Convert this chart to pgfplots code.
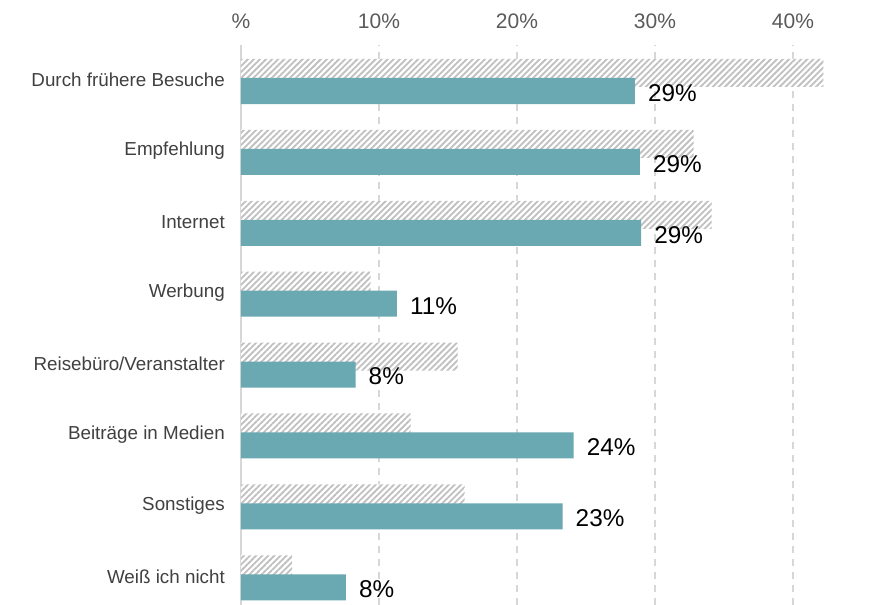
\documentclass[border=0pt]{standalone}
\usepackage{fontspec}
\setmainfont{Liberation Sans}
\usepackage{pgfplots}
\pgfplotsset{compat=1.18}
\usetikzlibrary{patterns.meta}
\definecolor{tealbar}{RGB}{106,168,178}
\definecolor{hatchgray}{RGB}{192,192,192}
\definecolor{catgray}{RGB}{64,64,64}
\definecolor{tickgray}{RGB}{90,90,90}
\definecolor{gridgray}{RGB}{215,215,215}

\begin{document}
\begin{tikzpicture}
\useasboundingbox (0,0) rectangle (876pt,605pt);
\begin{axis}[
  at={(241pt,560pt)}, anchor=north west,
  scale only axis, width=621pt, height=560pt,
  xmin=0, xmax=45, ymin=-7.25, ymax=0.649,
  axis line style={draw=none},
  major tick length=0pt,
  xtick={10,20,30,40},
  xticklabels={10\%,20\%,30\%,40\%},
  extra x ticks={0},
  extra x tick labels={\%},
  extra x tick style={grid style={solid, draw=gridgray, line width=1.5pt}},
  xticklabel pos=right,
  xticklabel style={font=\fontsize{21}{25}\selectfont, text=tickgray, inner sep=0pt, anchor=south, yshift=16pt},
  xmajorgrids,
  grid style={dash pattern=on 7pt off 6pt, draw=gridgray, line width=1.3pt},
  ytick={0.155,-0.845,-1.845,-2.845,-3.845,-4.845,-5.845,-6.845},
  yticklabels={Durch frühere Besuche,Empfehlung,Internet,Werbung,Reisebüro/Veranstalter,Beiträge in Medien,Sonstiges,Weiß ich nicht},
  yticklabel style={font=\fontsize{18.8}{22}\selectfont, text=catgray, inner sep=0pt, anchor=east, xshift=-16pt},
]
% previous survey (hatched)
\addplot[xbar, bar width=0.395, bar shift=0.254, draw=none, fill=white,
  postaction={pattern={Lines[angle=45,distance=4.3pt,line width=1.8pt]}, pattern color=hatchgray}]
  coordinates {(42.2,0) (32.8,-1) (34.1,-2) (9.4,-3) (15.7,-4) (12.3,-5) (16.2,-6) (3.7,-7)};
% current survey (teal)
\addplot[xbar, bar width=0.367, bar shift=0, draw=none, fill=tealbar,
  nodes near coords, point meta=explicit symbolic,
  nodes near coords style={anchor=west, inner sep=0pt, xshift=13pt, yshift=-2pt, font=\fontsize{24.3}{28}\selectfont, text=black}]
  table[meta=lab] {
x y lab
28.55 0 29\%
28.9 -1 29\%
29.0 -2 29\%
11.3 -3 11\%
8.3 -4 8\%
24.1 -5 24\%
23.3 -6 23\%
7.6 -7 8\%
};
\end{axis}
\end{tikzpicture}
\end{document}
